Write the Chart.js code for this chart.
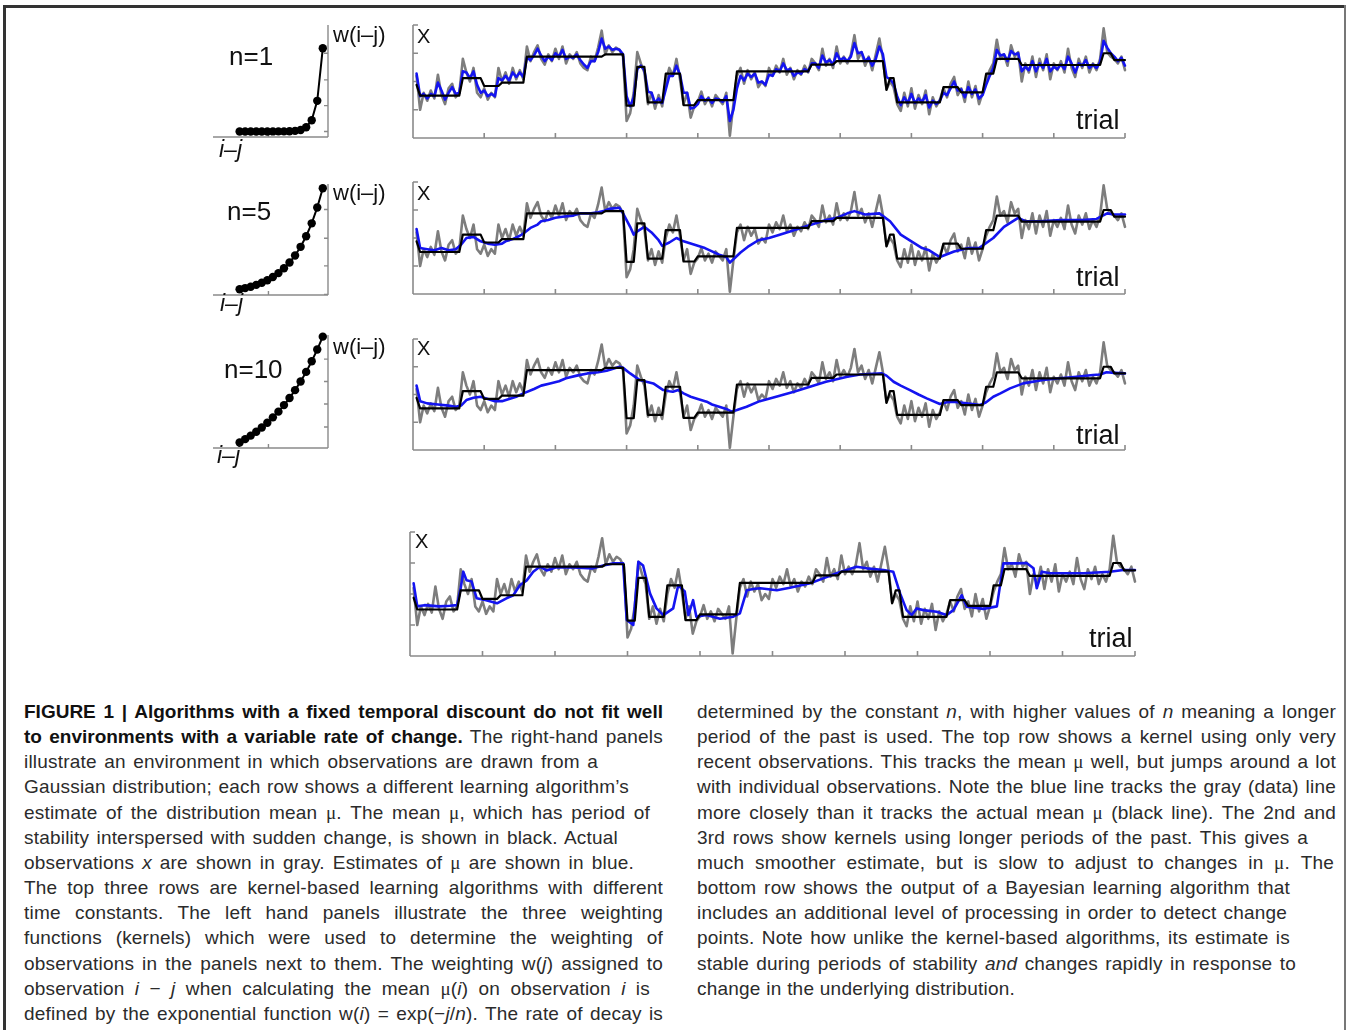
<!DOCTYPE html>
<html><head><meta charset="utf-8">
<script src="https://cdn.jsdelivr.net/npm/chart.js@4.4.0/dist/chart.umd.min.js"></script>
<style>
html,body{margin:0;padding:0;background:#fff;}
body{width:1354px;height:1030px;position:relative;overflow:hidden;font-family:"Liberation Sans",Arial,Helvetica,sans-serif;}
canvas{position:absolute;}
.lbl{position:absolute;white-space:nowrap;color:#111;}
.cap{position:absolute;white-space:nowrap;color:#2b2b2b;font-size:19px;line-height:19px;letter-spacing:0.2px;transform-origin:0 0;}
.cap b{color:#111;letter-spacing:0;}
.mu{font-family:"Liberation Serif","Times New Roman",serif;}
.frame{position:absolute;background:#333;}
</style></head>
<body>
<div class="frame" style="left:3px;top:5px;width:1343px;height:3px;"></div>
<div class="frame" style="left:3px;top:5px;width:3px;height:1025px;"></div>
<div class="frame" style="left:1344px;top:5px;width:2px;height:1025px;background:#777"></div>
<canvas id="k1"></canvas><canvas id="k2"></canvas><canvas id="k3"></canvas>
<canvas id="t1"></canvas><canvas id="t2"></canvas><canvas id="t3"></canvas><canvas id="t4"></canvas>
<script>
// ---------------- DATA ----------------
// observations x (gray), trials 1..200
const observed = [
55,25,40,33,42,35,56,38,30,44,
48,36,40,70,58,50,62,40,36,44,
34,40,36,62,50,58,48,62,52,60,
52,81,68,76,82,70,65,74,68,79,
70,81,66,74,70,76,66,62,60,72,
68,80,95,74,82,76,80,78,72,15,
22,40,76,66,58,30,40,26,38,28,
50,62,55,70,52,30,40,18,28,32,
41,30,36,28,38,34,30,40,2,30,
55,62,48,60,52,58,45,50,46,62,
55,64,58,70,56,62,52,60,56,64,
58,70,66,60,79,64,70,62,81,66,
72,66,74,91,70,76,64,72,60,74,
88,70,43,50,45,30,24,40,28,44,
26,38,30,42,21,36,28,34,44,36,
48,54,38,44,32,50,36,46,30,40,
52,60,66,87,70,74,64,82,72,76,
50,66,58,72,54,70,60,74,52,66,
60,68,58,79,62,54,70,62,72,58,
66,60,70,97,76,72,70,66,72,60];

// true mean mu (black), vertices
const meanT = [1,2,13,14,19,20,24,25,31,32,53,54,59,60,62,63,65,66,70,71,75,76,79,80,90,91,111,112,118,119,132,133,134,135,136,148,149,153,154,160,161,163,164,170,171,193,194,196,197,200];
const meanV = [47,37.5,37.5,53,53,46,46,49,49,72,72,74,74,28.6,28.6,63,63,31.6,31.6,57,57,29,29,33.6,33.6,59,59,65,65,68,68,42.5,53,53,31.6,31.6,45,45,40.4,40.4,57,57,70,70,64.6,64.6,75,75,69,69];

// estimate, kernel n=1 (every trial)
const est1 = [
57,37,39,35,39,37,49,42,34,40,
45,39,40,59,58,53,59,47,40,42,
37,39,37,53,51,55,51,58,54,58,
54,71,69,73,79,73,68,72,69,75,
72,78,70,72,71,74,69,65,62,68,
68,76,88,79,81,78,79,78,74,37,
28,36,61,64,60,41,40,31,35,31,
43,55,55,64,56,40,40,26,27,30,
37,33,35,31,35,34,32,37,15,25,
44,55,51,57,54,57,49,50,47,56,
55,61,59,66,60,61,55,58,57,61,
59,66,66,62,73,67,69,65,75,69,
71,68,72,84,75,76,68,71,64,70,
81,74,54,52,48,37,29,36,31,39,
31,35,32,38,27,33,30,33,40,38,
44,50,42,43,36,45,39,43,35,38,
47,55,62,78,73,74,68,77,74,75,
59,63,60,68,59,66,62,70,59,63,
61,65,61,72,66,58,66,64,69,62,
65,62,67,86,80,75,72,68,71,64];

// estimate, kernel n=5
const est5T = [1,2,4,6,8,10,12,13.5,15,17,19,21,23,25,26,28,30,31,33,35,36,38,40,42,45,47,50,52,53.5,55,58,59,61,62,63,65,67,69,70,72,74,76,78,80,82,84,86,88,89,90,92,94,97,100,103,107,110,112,116,119,122,124,127,131,134,137,140,143,145,148,152,156,159,163,166,170,172,176,182,188,192,195,197,200];
const est5V = [58,41,40,39,41,39,40,44,50,51,47,45,44,45,47,49,52,54,59,62,65,66,68,69,70,72,72,73,74,76,77,72,60,53,56,60,55,48,43,46,50,47,45,43,41,38,35,33,28,31,37,42,48,50,53,57,60,62,66,68,72,74,71,72,65,53,47,41,39,33,38,41,41,50,60,68,65,65,66,66,67,72,71,71];

// estimate, kernel n=10
const est10T = [1,2,4,7,10,12,13.5,15,17,19,21,23,25,27,29,31,34,36,38.5,41,43,46,49,52,54.4,56,58,59,61,63.7,65,67.5,70.3,72,73,74.5,76,78,80,82.5,84,86,88,89.5,91,93.7,97.4,102,107,111.5,116,122,125.6,131.7,133,135,137,139.6,142,144.3,148,150,152,155.5,159.3,161,163,165,167.7,171.4,177,181.7,186.4,191,193,194.8,197,200];
const est10V = [58,44,42,41,40,39,40,45,47,48,46,44,44,46,48,51,55,58,60,62,64.6,67,69,70,71.5,73,75,74,69,63,62,60,54,53,52.5,54,51,48,46,43.5,41,39,37,34.5,36,39,44,48,52.5,57,61.5,66,68,69,67,61.5,58,54,50,46.5,41.4,43,43.5,42,40.5,43,48,51,55.5,60,63,64.6,66,67.6,68,70,69.5,69];

// estimate, Bayesian learner
const bayesT = [1,2,4,8,11,13,14,14.7,15.6,17,18.4,21,24,26.6,28.5,30.3,32.2,34,35.8,37.7,40.4,45,50.5,53.3,56.1,58.8,59.8,61.6,63,64.3,66.2,68,69.9,72.6,74,75.8,76.8,78.1,79,81.8,85.5,89.2,91,92.9,94.7,96.6,101.2,104.8,110.4,114,117.7,123.2,126,130.6,133.3,135.2,137,138.4,139.8,141.6,145.3,148,149.9,152.2,153.6,158.2,161.9,163.7,167.4,170.1,172,172.9,174.3,176.6,185.8,193.1,196.8,200];
const bayesV = [58.6,40,41,40,40.5,41,55,68,61,60,46.5,45,42.5,46.5,49,57,61,68,72,69,71.5,71.5,70.7,73,74.7,74.7,29,25,76,73,50.5,38.4,33,38.4,57,52,33,45,31.7,33,30,31.7,34.4,53,54,54.6,53,55,58.6,62.6,66.7,72,70.7,69.4,68,50.5,37,33,38.4,37,35.7,33,37,49,39.8,38,40,74.7,74.7,75,70.7,54.6,68,66.7,66.7,68,69.4,69.4];

// kernels w(i-j), lag j = 15..0
const lags = [15,14,13,12,11,10,9,8,7,6,5,4,3,2,1,0];
const kernN1  = [0,0,0,0,0,0,0.0001,0.0003,0.0009,0.0025,0.0067,0.018,0.050,0.135,0.368,1];
const kernN5  = [0.050,0.061,0.074,0.091,0.111,0.135,0.165,0.202,0.247,0.301,0.368,0.449,0.549,0.670,0.819,1];
const kernN10 = [0.223,0.247,0.273,0.301,0.333,0.368,0.407,0.449,0.497,0.549,0.607,0.670,0.741,0.819,0.905,1];

const trialTicks = [20,40,60,80,100,120,140,160,180,200];
const valueTicks = [25,50,75,100];

// ---------------- DRAWING ----------------
const GRAY = '#7d7d7d', BLUE = '#1414f0', BLACK = '#000000', AXIS = '#8a8a8a';
const PAD = 14;

const axesPlugin = {
  id: 'axesDraw',
  beforeDatasetsDraw(chart, args, o) {
    const {ctx, chartArea: a, scales: {x, y}} = chart;
    ctx.save();
    ctx.strokeStyle = o.color; ctx.lineWidth = o.width;
    const ax = o.ySide === 'right' ? a.right : a.left;
    const dir = o.ySide === 'right' ? -1 : 1;
    ctx.beginPath();
    ctx.moveTo(ax, a.top); ctx.lineTo(ax, a.bottom);
    ctx.moveTo(a.left, a.bottom); ctx.lineTo(a.right, a.bottom);
    for (const v of o.yTicks) { const py = y.getPixelForValue(v); ctx.moveTo(ax, py); ctx.lineTo(ax + dir * o.len, py); }
    for (const v of o.xTicks) { const px = x.getPixelForValue(v); ctx.moveTo(px, a.bottom); ctx.lineTo(px, a.bottom - o.len); }
    ctx.stroke();
    ctx.restore();
  }
};

function place(id, l, t, r, b) {
  const c = document.getElementById(id);
  const w = Math.round(r - l + 2 * PAD), h = Math.round(b - t + 2 * PAD);
  c.width = w; c.height = h;
  c.style.left = (l - PAD) + 'px'; c.style.top = (t - PAD) + 'px';
  c.style.width = w + 'px'; c.style.height = h + 'px';
  return c;
}

function pts(xs, ys) { return xs.map((xv, i) => ({x: xv, y: ys[i]})); }
const trials = observed.map((_, i) => i + 1);

function baseOptions(xmin, xmax, ymin, ymax, axisOpts) {
  return {
    responsive: false, animation: false, events: [], devicePixelRatio: 1,
    layout: {padding: PAD},
    plugins: {legend: {display: false}, tooltip: {enabled: false}, axesDraw: axisOpts},
    scales: {
      x: {type: 'linear', display: false, min: xmin, max: xmax},
      y: {type: 'linear', display: false, min: ymin, max: ymax}
    }
  };
}

function lineDs(data, color, width, order) {
  return {data, borderColor: color, borderWidth: width, pointRadius: 0, tension: 0,
          borderJoinStyle: 'round', borderCapStyle: 'round', fill: false, clip: false, order};
}

function series(id, box, estT, estV) {
  const c = place(id, ...box);
  new Chart(c, {
    type: 'line',
    data: {datasets: [
      lineDs(pts(meanT, meanV), BLACK, 2.2, 1),
      lineDs(pts(estT, estV), BLUE, 2.6, 2),
      lineDs(pts(trials, observed), GRAY, 2.6, 3)
    ]},
    options: baseOptions(0, 200, 0, 100, {color: AXIS, width: 1.6, len: 5, ySide: 'left', yTicks: valueTicks, xTicks: trialTicks})
  });
}

function kernel(id, box, w, ymin, ymax, yt) {
  const c = place(id, ...box);
  new Chart(c, {
    type: 'line',
    data: {datasets: [{
      data: pts(lags.map(l => -l), w), borderColor: BLACK, borderWidth: 2, tension: 0,
      pointRadius: 4.2, pointBackgroundColor: BLACK, pointBorderWidth: 0, clip: false
    }]},
    options: baseOptions(-19.8, 0.94, ymin, ymax, {color: AXIS, width: 1.4, len: 4, ySide: 'right', yTicks: yt, xTicks: [-9.8]})
  });
}

Chart.register(axesPlugin);

series('t1', [413, 25, 1125, 138], trials, est1);
series('t2', [413, 182, 1125, 294], est5T, est5V);
series('t3', [413, 339, 1125, 450], est10T, est10V);
series('t4', [410, 532, 1135, 656], bayesT, bayesV);

kernel('k1', [213, 25, 327.7, 137.3], kernN1, -0.067, 1.28, [0, 0.31, 0.62, 0.94]);
kernel('k2', [213, 184, 327.7, 295], kernN5, -0.004, 1.04, [0, 0.27, 0.53, 0.8]);
kernel('k3', [213, 335, 327.7, 448.3], kernN10, 0.182, 1.012, [0.182, 0.336, 0.505, 0.67, 0.835]);

// ---------------- TEXT ----------------
const labels = [
  ['n=1', 229, 65, 26, false], ['n=5', 227, 220, 26, false], ['n=10', 224, 378, 26, false],
  ['w(i\u2013j)', 333, 43, 22, false], ['w(i\u2013j)', 333, 201, 22, false], ['w(i\u2013j)', 333, 355, 22, false],
  ['i\u2013j', 219, 157, 23, true], ['i\u2013j', 220, 311, 23, true], ['i\u2013j', 217, 463, 23, true],
  ['X', 417, 43, 20, false], ['X', 417, 200, 20, false], ['X', 417, 355, 20, false], ['X', 415, 548, 20, false],
  ['trial', 1076, 130, 27, false], ['trial', 1076, 287, 27, false], ['trial', 1076, 445, 27, false], ['trial', 1089, 648, 27, false]
];
for (const [t, x, base, s, it] of labels) {
  const d = document.createElement('div');
  d.className = 'lbl'; d.textContent = t;
  d.style.cssText = `left:${x}px;top:${base - 0.8465 * s}px;font-size:${s}px;line-height:${s}px;font-style:${it ? 'italic' : 'normal'}`;
  document.body.appendChild(d);
}

const M = '<span class="mu">\u03bc</span>';
const capLeft = [
  ['<b>FIGURE 1 | Algorithms with a fixed temporal discount do not fit well</b>', 663],
  ['<b>to environments with a variable rate of change.</b> The right-hand panels', 663],
  ['illustrate an environment in which observations are drawn from a', 598],
  ['Gaussian distribution; each row shows a different learning algorithm\u2019s', 629],
  [`estimate of the distribution mean ${M}. The mean ${M}, which has period of`, 650],
  ['stability interspersed with sudden change, is shown in black. Actual', 618],
  [`observations <i>x</i> are shown in gray. Estimates of ${M} are shown in blue.`, 634],
  ['The top three rows are kernel-based learning algorithms with different', 663],
  ['time constants. The left hand panels illustrate the three weighting', 663],
  ['functions (kernels) which were used to determine the weighting of', 663],
  ['observations in the panels next to them. The weighting w(<i>j</i>) assigned to', 663],
  [`observation <i>i</i> \u2212 <i>j</i> when calculating the mean ${M}(<i>i</i>) on observation <i>i</i> is`, 650],
  ['defined by the exponential function w(<i>i</i>) = exp(\u2212<i>j</i>/<i>n</i>). The rate of decay is', 663]
];
const capRight = [
  ['determined by the constant <i>n</i>, with higher values of <i>n</i> meaning a longer', 1336],
  ['period of the past is used. The top row shows a kernel using only very', 1336],
  [`recent observations. This tracks the mean ${M} well, but jumps around a lot`, 1336],
  ['with individual observations. Note the blue line tracks the gray (data) line', 1336],
  [`more closely than it tracks the actual mean ${M} (black line). The 2nd and`, 1336],
  ['3rd rows show kernels using longer periods of the past. This gives a', 1308],
  [`much smoother estimate, but is slow to adjust to changes in ${M}. The`, 1334],
  ['bottom row shows the output of a Bayesian learning algorithm that', 1290],
  ['includes an additional level of processing in order to detect change', 1287],
  ['points. Note how unlike the kernel-based algorithms, its estimate is', 1290],
  ['stable during periods of stability <i>and</i> changes rapidly in response to', 1296],
  ['change in the underlying distribution.', 1015]
];
function caption(lines, x0) {
  lines.forEach(([html, right], i) => {
    const d = document.createElement('div');
    d.className = 'cap'; d.innerHTML = html;
    const base = 718 + i * 25.17;
    d.style.left = x0 + 'px'; d.style.top = (base - 0.8465 * 19) + 'px';
    document.body.appendChild(d);
    const nat = d.getBoundingClientRect().width;
    const target = right - x0;
    const spaces = (d.textContent.match(/ /g) || []).length;
    const diff = target - nat;
    if (diff >= -spaces * 1.2) {
      d.style.wordSpacing = (diff / spaces) + 'px';
    } else {
      d.style.wordSpacing = '-1.2px';
      const nat2 = d.getBoundingClientRect().width;
      d.style.transform = `scaleX(${target / nat2})`;
    }
  });
}
caption(capLeft, 24);
caption(capRight, 697);
</script>
</body></html>
